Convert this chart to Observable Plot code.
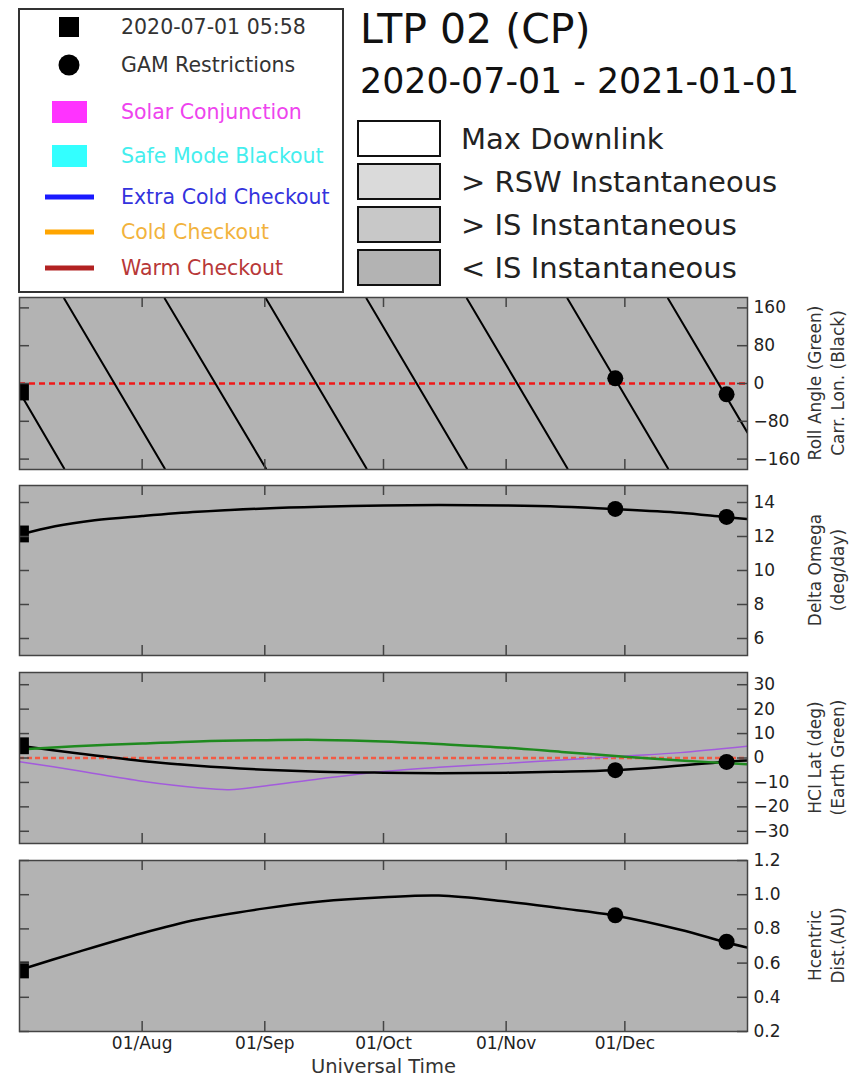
<!DOCTYPE html>
<html><head><meta charset="utf-8">
<script src="https://cdn.jsdelivr.net/npm/d3@7"></script>
<script src="https://cdn.jsdelivr.net/npm/@observablehq/plot@0.6"></script>
<style>
body{margin:0;background:#fff;}
#root{position:relative;width:856px;height:1078px;overflow:hidden;font-family:"DejaVu Sans",sans-serif;}
#root svg{position:absolute;left:0;}
</style></head><body><div id="root"></div>
<script>
// ---------- data ----------
const xStart = "2020-07-01T00:00Z", xEnd = "2021-01-01T00:00Z";
const monthTicks = ["2020-08-01T00:00Z","2020-09-01T00:00Z","2020-10-01T00:00Z","2020-11-01T00:00Z","2020-12-01T00:00Z"];

const squareDate = "2020-07-01T05:58Z";
const gamDates = ["2020-11-28T14:00Z","2020-12-26T17:00Z"];

// Panel 1: Carrington longitude (segments between wraps)
const carrSegment = [0,0,1,1,2,2,3,3,4,4,5,5,6,6,7,7];
const carrDates = ["2020-07-01T00:00Z","2020-07-12T07:00Z","2020-07-12T07:00Z","2020-08-06T17:00Z",
  "2020-08-06T17:00Z","2020-09-01T07:00Z","2020-09-01T07:00Z","2020-09-26T17:00Z",
  "2020-09-26T17:00Z","2020-10-22T02:00Z","2020-10-22T02:00Z","2020-11-16T12:00Z",
  "2020-11-16T12:00Z","2020-12-11T22:00Z","2020-12-11T22:00Z","2021-01-01T00:00Z"];
const carrLon = [-18,-180,180,-180,180,-180,180,-180,180,-180,180,-180,180,-180,180,-104];
const carrSquare = -18;
const carrGam = [11,-23];

// Panel 2: Delta Omega
const omegaDates = ["2020-07-01","2020-07-10","2020-07-20","2020-08-01","2020-08-15","2020-09-01","2020-09-15",
  "2020-10-01","2020-10-15","2020-11-01","2020-11-15","2020-11-28","2020-12-15","2020-12-26","2021-01-01"];
const omegaValues = [12.1,12.6,12.95,13.2,13.45,13.65,13.75,13.82,13.85,13.82,13.75,13.62,13.4,13.15,13.02];
const omegaSquare = 12.15;
const omegaGam = [13.62,13.15];

// Panel 3: HCI latitude (black), Earth (green), purple
const latDates = ["2020-07-01","2020-07-15","2020-08-01","2020-08-15","2020-09-01","2020-09-15","2020-10-01",
  "2020-10-15","2020-11-01","2020-11-15","2020-11-28","2020-12-10","2020-12-26","2021-01-01"];
const latValues = [5.0,2.0,-1.2,-3.2,-4.8,-5.6,-6.0,-6.2,-6.0,-5.6,-5.0,-3.8,-1.6,-1.0];
const earthDates = ["2020-07-01","2020-07-15","2020-08-01","2020-08-15","2020-09-01","2020-09-15","2020-10-01",
  "2020-10-15","2020-11-01","2020-11-15","2020-12-01","2020-12-15","2021-01-01"];
const earthValues = [3.5,4.8,5.9,6.8,7.3,7.4,6.8,5.7,4.2,2.5,0.5,-1.0,-2.6];
const purpleDates = ["2020-07-01","2020-07-15","2020-08-01","2020-08-15","2020-08-23","2020-09-01","2020-09-15",
  "2020-10-01","2020-10-15","2020-11-01","2020-11-15","2020-12-01","2020-12-15","2021-01-01"];
const purpleValues = [-1.5,-5,-9.5,-12.2,-13,-11.5,-8.5,-5.5,-3.8,-2.2,-0.8,0.8,2.2,4.8];
const latSquare = 5.0;
const latGam = [-5.0,-1.6];

// Panel 4: heliocentric distance
const distDates = ["2020-07-01","2020-07-15","2020-08-01","2020-08-15","2020-09-01","2020-09-15","2020-10-01",
  "2020-10-15","2020-11-01","2020-11-15","2020-11-28","2020-12-15","2020-12-26","2021-01-01"];
const distValues = [0.56,0.66,0.775,0.855,0.92,0.96,0.985,0.995,0.96,0.92,0.88,0.795,0.725,0.69];
const distSquare = 0.56;
const distGam = [0.88,0.725];

// axis labels
const yLabels = [["Roll Angle (Green)","Carr. Lon. (Black)"],["Delta Omega","(deg/day)"],
  ["HCI Lat (deg)","(Earth Green)"],["Hcentric","Dist.(AU)"]];
const xLabel = "Universal Time";

// legends
const legendLabels = ["2020-07-01 05:58","GAM Restrictions","Solar Conjunction","Safe Mode Blackout","Extra Cold Checkout","Cold Checkout","Warm Checkout"];
const legendKinds = ["square","circle","rect","rect","line","line","line"];
const legendColors = ["#000000","#000000","#ff33ff","#33ffff","#1a1aff","#ffa500","#b22222"];
const legendTextColors = ["#333333","#333333","#ee44ee","#44eeee","#3333dd","#f2b33d","#b83838"];
const shadeLabels = ["Max Downlink","> RSW Instantaneous","> IS Instantaneous","< IS Instantaneous"];
const shadeFills = ["#ffffff","#dadada","#c8c8c8","#b3b3b3"];
const titleText = "LTP 02 (CP)";
const subtitleText = "2020-07-01 - 2021-01-01";

// ---------- build ----------
const D = s => new Date(s);
const root = document.getElementById("root");

const tickFont = "'DejaVu Sans', sans-serif";
const W = 856, ML = 19, MR = 109, PW = W - ML - MR;
const panelTops = [297,485,672,860], panelHeights = [172,170,171,171];

function panel({top, height, yDomain, yTicks, marks, bottom=false}) {
  const mt = 10, mb = bottom ? 48 : 10;
  const ticksStyle = {stroke:"#444", strokeOpacity:1, strokeWidth:1.5};
  const allMarks = [
    Plot.frame({fill:"#b3b3b3", stroke:null}),
    ...marks,
    Plot.gridY(yTicks, {...ticksStyle, insetRight: PW-10}),
    Plot.gridY(yTicks, {...ticksStyle, insetLeft: PW-10}),
    Plot.gridX(monthTicks.map(D), {...ticksStyle, insetBottom: height-10}),
    Plot.gridX(monthTicks.map(D), {...ticksStyle, insetTop: height-10}),
    Plot.frame({stroke:"#444", strokeWidth:1.5}),
    Plot.axisY(yTicks, {anchor:"right", tickSize:0, tickPadding:6, label:null, fontSize:17, fontFamily:tickFont, fill:"#222"})
  ];
  if (bottom) {
    allMarks.push(Plot.axisX(monthTicks.map(D), {anchor:"bottom", tickSize:0, tickPadding:5, label:null,
      tickFormat:d3.utcFormat("%d/%b"), fontSize:17, fontFamily:tickFont, fill:"#222"}));
    allMarks.push(Plot.text([xLabel], {frameAnchor:"bottom", lineAnchor:"middle", dy:35, fontSize:19.5, fontFamily:tickFont, fill:"#333"}));
  }
  const svg = Plot.plot({
    width: W, height: height + mt + mb,
    marginLeft: ML, marginRight: MR, marginTop: mt, marginBottom: mb,
    x: {type:"utc", domain:[D(xStart), D(xEnd)], ...(bottom ? {} : {axis:null})},
    y: {domain: yDomain},
    style: {background:"transparent", overflow:"visible"},
    marks: allMarks
  });
  svg.style.top = (top - mt) + "px";
  svg.style.position = "absolute";
  root.appendChild(svg);
}

const squareMark = v => Plot.dot([{d:D(squareDate), v}], {x:"d", y:"v", symbol:"square", r:9.5, fill:"#000", clip:"frame"});
const gamMark = vals => Plot.dot(gamDates.map((g,i)=>({d:D(g), v:vals[i]})), {x:"d", y:"v", r:8, fill:"#000"});

// Panel 1
panel({top:panelTops[0], height:panelHeights[0], yDomain:[-182,182], yTicks:[-160,-80,0,80,160],
  marks:[
    Plot.ruleY([0], {stroke:"#f01818", strokeWidth:2.5, strokeDasharray:"6,4"}),
    Plot.line(carrDates.map((d,i)=>({d:D(d), v:carrLon[i], s:carrSegment[i]})), {x:"d", y:"v", z:"s", stroke:"#000", strokeWidth:2, clip:"frame"}),
    squareMark(carrSquare), gamMark(carrGam)
  ]});

// Panel 2
panel({top:panelTops[1], height:panelHeights[1], yDomain:[5,15], yTicks:[6,8,10,12,14],
  marks:[
    Plot.line(omegaDates.map((d,i)=>({d:D(d), v:omegaValues[i]})), {x:"d", y:"v", stroke:"#000", strokeWidth:2.5, curve:"catmull-rom", clip:"frame"}),
    squareMark(omegaSquare), gamMark(omegaGam)
  ]});

// Panel 3
panel({top:panelTops[2], height:panelHeights[2], yDomain:[-35,35], yTicks:[-30,-20,-10,0,10,20,30],
  marks:[
    Plot.ruleY([0], {stroke:"#f35a44", strokeWidth:2.5, strokeDasharray:"5,3"}),
    Plot.line(purpleDates.map((d,i)=>({d:D(d), v:purpleValues[i]})), {x:"d", y:"v", stroke:"#a35bdc", strokeWidth:1.5, curve:"catmull-rom", clip:"frame"}),
    Plot.line(latDates.map((d,i)=>({d:D(d), v:latValues[i]})), {x:"d", y:"v", stroke:"#000", strokeWidth:2.5, curve:"catmull-rom", clip:"frame"}),
    Plot.line(earthDates.map((d,i)=>({d:D(d), v:earthValues[i]})), {x:"d", y:"v", stroke:"#1f8a1f", strokeWidth:2.5, curve:"catmull-rom", clip:"frame"}),
    squareMark(latSquare), gamMark(latGam)
  ]});

// Panel 4
panel({top:panelTops[3], height:panelHeights[3], yDomain:[0.2,1.2], yTicks:[0.2,0.4,0.6,0.8,1.0,1.2], bottom:true,
  marks:[
    Plot.line(distDates.map((d,i)=>({d:D(d), v:distValues[i]})), {x:"d", y:"v", stroke:"#000", strokeWidth:2.5, curve:"catmull-rom", clip:"frame"}),
    squareMark(distSquare), gamMark(distGam)
  ]});

// ---------- overlay: legends, titles, y labels ----------
const ov = d3.create("svg").attr("width",856).attr("height",1078).style("top","0px").style("pointer-events","none");
ov.append("rect").attr("x",19).attr("y",9).attr("width",324).attr("height",283)
  .attr("fill","#fff").attr("stroke","#333").attr("stroke-width",2);
const rowY = [27,65,112,156,197,232,268];
legendLabels.forEach((lab,i)=>{
  const y=rowY[i], k=legendKinds[i], c=legendColors[i];
  if(k==="square") ov.append("rect").attr("x",59).attr("y",y-10).attr("width",20).attr("height",20).attr("fill",c);
  else if(k==="circle") ov.append("circle").attr("cx",69).attr("cy",y).attr("r",10.5).attr("fill",c);
  else if(k==="rect") ov.append("rect").attr("x",52).attr("y",y-11).attr("width",35).attr("height",22).attr("fill",c);
  else ov.append("line").attr("x1",45).attr("x2",94).attr("y1",y).attr("y2",y).attr("stroke",c).attr("stroke-width",5);
  ov.append("text").attr("x",121).attr("y",y).attr("dy","0.35em").attr("fill",legendTextColors[i])
    .attr("font-family","DejaVu Sans").attr("font-size",20.5).text(lab);
});
ov.append("text").attr("x",360).attr("y",43).attr("font-family","DejaVu Sans").attr("font-size",41).attr("fill","#111").text(titleText);
ov.append("text").attr("x",360).attr("y",93).attr("font-family","DejaVu Sans").attr("font-size",34.8).attr("fill","#111").text(subtitleText);
const shadeY = [121,164,207,250];
shadeLabels.forEach((lab,i)=>{
  ov.append("rect").attr("x",358).attr("y",shadeY[i]).attr("width",82).attr("height",35)
    .attr("fill",shadeFills[i]).attr("stroke","#111").attr("stroke-width",2);
  ov.append("text").attr("x",461).attr("y",shadeY[i]+18).attr("dy","0.35em").attr("font-family","DejaVu Sans")
    .attr("font-size",29).attr("fill","#222").text(lab);
});
yLabels.forEach((lines,i)=>{
  const cy = panelTops[i] + panelHeights[i]/2;
  lines.forEach((t,j)=>{
    const cx = 815 + 23*j;
    ov.append("text").attr("x",cx).attr("y",cy).attr("dy","0.35em").attr("text-anchor","middle")
      .attr("transform",`rotate(-90,${cx},${cy})`).attr("font-family","DejaVu Sans").attr("font-size",17)
      .attr("fill","#333").text(t);
  });
});
root.appendChild(ov.node());
</script></body></html>
